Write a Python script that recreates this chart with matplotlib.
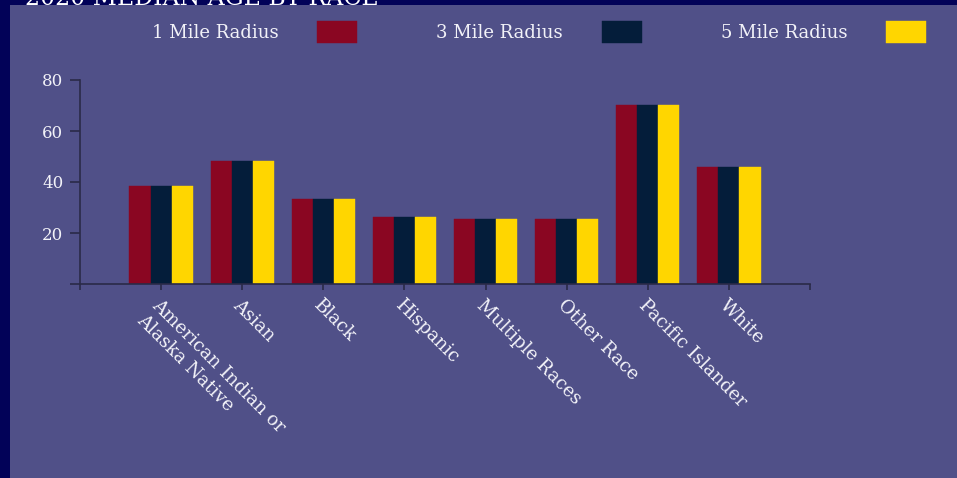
import matplotlib
matplotlib.use("Agg")
import matplotlib.pyplot as plt
import numpy as np

categories = ["American Indian or\nAlaska Native", "Asian", "Black", "Hispanic",
              "Multiple Races", "Other Race", "Pacific Islander", "White"]
series_names = ["1 Mile Radius", "3 Mile Radius", "5 Mile Radius"]
mile1 = [38.5, 48.3, 33.4, 26.1, 25.5, 25.5, 70.0, 46.0]
mile3 = [38.5, 48.3, 33.4, 26.1, 25.5, 25.5, 70.0, 46.0]
mile5 = [38.5, 48.3, 33.4, 26.1, 25.5, 25.5, 70.0, 46.0]
yticks = [20, 40, 60, 80]
title = "2020 MEDIAN AGE BY RACE"

colors = ["#8a0622", "#041d3a", "#ffd600"]
txt = "#f2f2f8"
plt.rcParams["font.family"] = ["DejaVu Serif"]

W, H = 957, 478
fig = plt.figure(figsize=(W / 100, H / 100), dpi=100, facecolor="#020258")

bg = fig.add_axes([10 / W, 0, 1 - 10 / W, 1 - 5 / H])
bg.set_facecolor("#505088")
bg.set_xticks([]); bg.set_yticks([])
for s in bg.spines.values():
    s.set_visible(False)

fig.text(25 / W, 1 - 5 / H, title, color="white", fontsize=17, va="baseline", ha="left")

ax = fig.add_axes([80 / W, 1 - 284 / H, 730 / W, 204 / H])
ax.set_facecolor("none")
x = np.arange(1, len(categories) + 1)
bw = 0.26
for i, (vals, name) in enumerate(zip([mile1, mile3, mile5], series_names)):
    ax.bar(x + (i - 1) * bw, vals, width=bw, color=colors[i], label=name,
           edgecolor=colors[i], linewidth=0.3)

ax.set_xlim(0, 9)
ax.set_ylim(0, 80)
ax.set_yticks([0] + yticks)
ax.set_yticklabels([""] + [str(v) for v in yticks])
ax.set_xticks(x)
ax.set_xticks([0, 9], minor=True)
ax.set_xticklabels(categories, rotation=-45, ha="left", va="top",
                   rotation_mode="anchor", fontsize=13.2, color=txt)
ax.tick_params(axis="y", colors="#2a2a48", labelcolor=txt, labelsize=12, length=7, width=1.2, pad=5)
ax.tick_params(axis="x", which="both", colors="#2a2a48", labelcolor=txt, length=4, width=1.2, pad=5)
for s in ["top", "right"]:
    ax.spines[s].set_visible(False)
for s in ["left", "bottom"]:
    ax.spines[s].set_color("#2a2a48")
    ax.spines[s].set_linewidth(1.2)

leg = ax.legend(loc="center", bbox_to_anchor=(539 / W, 1 - 32 / H), bbox_transform=fig.transFigure,
                ncol=3, markerfirst=False, frameon=False, fontsize=13,
                handlelength=2.2, handleheight=1.5, handletextpad=2.15, columnspacing=4.4,
                labelcolor=txt, borderpad=0)

fig.savefig("out.png", dpi=100, facecolor=fig.get_facecolor())
